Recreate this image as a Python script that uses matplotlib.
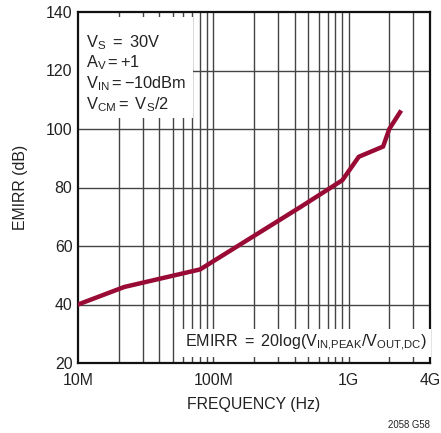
import matplotlib
matplotlib.use("Agg")
import matplotlib.pyplot as plt
from matplotlib import font_manager
import numpy as np

# ---- data ----
freq_hz = [10e6, 22e6, 80e6, 440e6, 900e6, 1.19e9, 1.8e9, 2.0e9, 2.4e9]
emirr_db = [40, 46, 52, 73.3, 82.5, 90.5, 94, 100, 105.7]
x_ticks = [10e6, 100e6, 1e9, 4e9]
x_ticklabels = ["10M", "100M", "1G", "4G"]
y_ticks = [20, 40, 60, 80, 100, 120, 140]

names = {f.name for f in font_manager.fontManager.ttflist}
narrow = "Liberation Sans Narrow" in names
base = "Liberation Sans Narrow" if narrow else "Liberation Sans"
sc = 1.0 if narrow else 0.83
plt.rcParams['font.family'] = [base, 'DejaVu Sans']
plt.rcParams['mathtext.fontset'] = 'custom'
for k in ('rm', 'it', 'bf', 'sf'):
    plt.rcParams['mathtext.' + k] = base

fig = plt.figure(figsize=(4.41, 4.33), dpi=100)
ax = fig.add_axes([78/441, 1-363/433, (430-78)/441, (363-12)/433])

ax.set_xscale('log')
ax.set_xlim(10e6, 4e9)
ax.set_ylim(20, 140)

# grid lines
minor = []
for dec in [1e7, 1e8, 1e9]:
    for m in range(1, 10):
        v = m * dec
        if 10e6 < v < 4e9:
            minor.append(v)
for v in minor:
    ax.axvline(v, color='#444444', lw=1.0, zorder=1)
for v in y_ticks[1:-1]:
    ax.axhline(v, color='#444444', lw=1.0, zorder=1)

ax.plot(freq_hz, emirr_db, color='#990a35', lw=3.2, solid_joinstyle='miter', zorder=3)

ax.set_xticks(x_ticks)
ax.set_xticklabels(x_ticklabels)
ax.xaxis.set_minor_locator(matplotlib.ticker.NullLocator())
ax.set_yticks(y_ticks)
fs = 13.8 * sc
ax.tick_params(length=0, labelsize=fs, pad=4, colors='#222222')
ax.tick_params(axis='x', pad=7)
for s in ax.spines.values():
    s.set_linewidth(1.6)
    s.set_color('#111111')

ax.set_xlabel("FREQUENCY (Hz)", fontsize=fs, color='#222222', labelpad=7)
ax.set_ylabel("EMIRR (dB)", fontsize=fs, color='#222222', labelpad=13)

# white box behind top-left annotation
ax.add_patch(plt.Rectangle((79/441, 1-118/433), (193-79)/441, (118-17)/433,
                           transform=fig.transFigure, facecolor='white',
                           edgecolor='none', zorder=2))

lines = [r"$\mathrm{V_S\ {=}\ 30V}$",
         r"$\mathrm{A_V{=}{+}1}$",
         r"$\mathrm{V_{IN}{=}{-}10dBm}$",
         r"$\mathrm{V_{CM}{=}\ V_S/2}$"]
baselines = [47, 67, 88, 109]
for t, b in zip(lines, baselines):
    fig.text(86/441, 1-b/433, t, fontsize=14.2 * sc, color='#222222', va='baseline', ha='left', zorder=5)

fig.text(427/441, 1-347/433, r"$\mathrm{EMIRR\ {=}\ 20log(V_{IN{,}PEAK}/V_{OUT{,}DC})}$",
         fontsize=14 * sc, color='#222222', va='baseline', ha='right', zorder=5,
         bbox=dict(facecolor='white', edgecolor='none', pad=3))

fig.text(430/441, 1-428/433, "2058 G58", fontsize=7.5 * (sc + 0.1), color='#222222', ha='right', va='baseline')

fig.savefig("out.png", dpi=100)
